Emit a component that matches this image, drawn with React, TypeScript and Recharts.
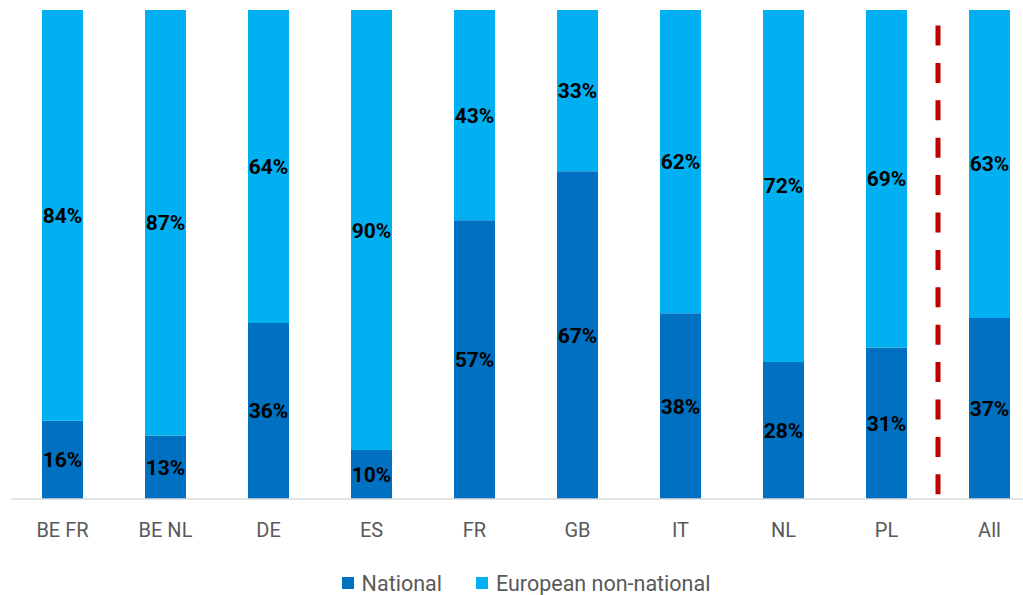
import React from 'react';
import { BarChart, Bar, XAxis, YAxis, Legend, LabelList, ReferenceLine } from 'recharts';

const categories = ['BE FR', 'BE NL', 'DE', 'ES', 'FR', 'GB', 'IT', 'NL', 'PL', 'All'];
const national = [16, 13, 36, 10, 57, 67, 38, 28, 31, 37];
const european = [84, 87, 64, 90, 43, 33, 62, 72, 69, 63];
const seriesNames = ['National', 'European non-national'];
const seriesColors = ['#0070C0', '#00B0F0'];

const data = categories.map((name, i) => ({
  name,
  national: national[i],
  european: european[i],
}));

const FONT = 'Roboto, "Noto Sans", sans-serif';

function AxisTick(props: any) {
  const { x, y, payload } = props;
  return (
    <text x={x} y={y} dy={30} textAnchor="middle" fill="#595959" fontSize={20} fontFamily={FONT}>
      {payload.value}
    </text>
  );
}

function ChartLegend() {
  return (
    <div style={{ height: 36, display: 'flex', justifyContent: 'center', alignItems: 'center', paddingTop: 12, boxSizing: 'border-box', fontFamily: FONT, fontSize: 21.5, color: '#595959' }}>
      {seriesNames.map((n, i) => (
        <span key={n} style={{ display: 'flex', alignItems: 'center', marginRight: i === 0 ? 34 : 0 }}>
          <span style={{ width: 12, height: 12, background: seriesColors[i], marginRight: 8, display: 'inline-block' }} />
          {n}
        </span>
      ))}
    </div>
  );
}

const pct = (v: any) => `${v}%`;

export default function App() {
  return (
    <div style={{ position: 'absolute', left: 0, top: 0, width: 1023, height: 595, overflow: 'hidden', background: '#fff' }}>
      <BarChart
        width={1060}
        height={595}
        data={data}
        margin={{ top: 10, right: 19, bottom: 0, left: 11 }}
        barSize={41}
      >
        <XAxis
          dataKey="name"
          tick={<AxisTick />}
          tickLine={false}
          axisLine={{ stroke: '#D9D9D9', strokeWidth: 1.5 }}
          height={60}
          interval={0}
        />
        <YAxis hide domain={[0, 100]} />
        <Legend verticalAlign="bottom" content={<ChartLegend />} wrapperStyle={{ height: 36 }} />
        <Bar dataKey="national" name="National" stackId="a" fill={seriesColors[0]} isAnimationActive={false}>
          <LabelList
            dataKey="national"
            position="center"
            formatter={pct}
            fill="#000"
            fontSize={21}
            fontWeight="bold"
            fontFamily={FONT}
          />
        </Bar>
        <Bar dataKey="european" name="European non-national" stackId="a" fill={seriesColors[1]} isAnimationActive={false}>
          <LabelList
            dataKey="european"
            position="center"
            formatter={pct}
            fill="#000"
            fontSize={21}
            fontWeight="bold"
            fontFamily={FONT}
          />
        </Bar>
        <ReferenceLine
          x="All"
          position="start"
          stroke="#C00000"
          strokeWidth={5}
          strokeDasharray="20 17.4"
          strokeDashoffset={32.7}
        />
      </BarChart>
    </div>
  );
}
